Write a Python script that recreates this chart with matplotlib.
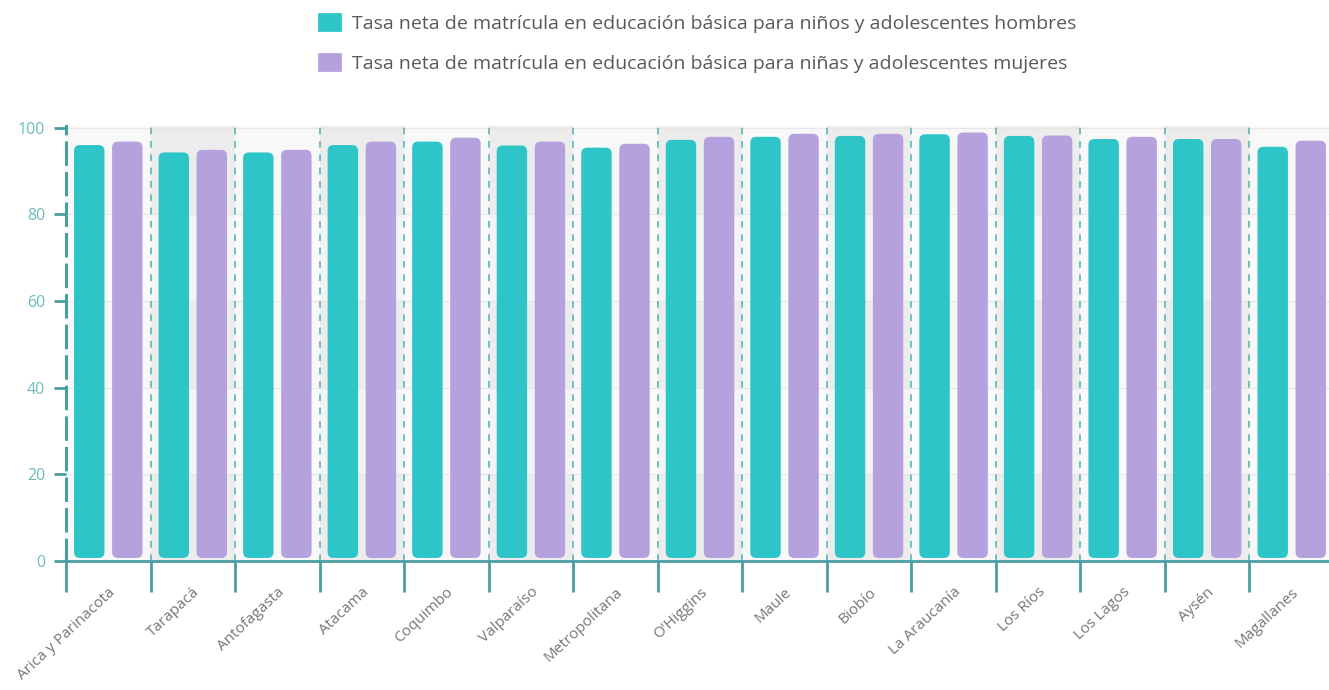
import numpy as np
import matplotlib
matplotlib.use("Agg")
from matplotlib import pyplot as plt
from matplotlib.patches import FancyBboxPatch, Patch

plt.rcParams['font.family'] = ['Open Sans', 'DejaVu Sans']

regions = ["Arica y Parinacota", "Tarapacá", "Antofagasta", "Atacama", "Coquimbo",
           "Valparaíso", "Metropolitana", "O'Higgins", "Maule", "Biobío",
           "La Araucanía", "Los Ríos", "Los Lagos", "Aysén", "Magallanes"]
hombres = [96.0, 94.3, 94.3, 96.0, 96.8, 95.9, 95.4, 97.2, 97.9, 98.1,
           98.5, 98.1, 97.4, 97.4, 95.6]
mujeres = [96.8, 94.9, 94.9, 96.8, 97.7, 96.8, 96.3, 97.9, 98.6, 98.6,
           98.9, 98.2, 97.9, 97.4, 97.0]
yticks = [0, 20, 40, 60, 80, 100]
label_h = "Tasa neta de matrícula en educación básica para niños y adolescentes hombres"
label_m = "Tasa neta de matrícula en educación básica para niñas y adolescentes mujeres"

teal = "#2ec5c8"
purple = "#b5a1de"
axis_col = "#4a9ea0"

fig = plt.figure(figsize=(13.29, 6.90), dpi=100)
ax = fig.add_axes([66/1329, 129/690, (1334-66)/1329, (564-129)/690])

n = len(regions)
x = np.arange(n)
ax.set_xlim(-0.5, n - 0.5)
ax.set_ylim(0, 100.4)

# background bands
for i in range(n):
    ax.axvspan(i - 0.5, i + 0.5, color="#ececec" if i % 2 else "#f8f8f8", zorder=0, lw=0)
for y0 in [20, 60]:
    ax.axhspan(y0, y0 + 20, color="white", alpha=0.45, zorder=0.5, lw=0)
for t in yticks[1:]:
    ax.axhline(t, color="#e6e6e6", lw=0.8, zorder=0.6)

# category separators
for b in np.arange(0.5, n - 0.5, 1):
    ax.axvline(b, color="#5ab5b3", lw=1.2, ls=(0, (4, 4)), zorder=1)

w = 0.36
off = 0.225
bars_h = ax.bar(x - off, hombres, w, color=teal, zorder=2)
bars_m = ax.bar(x + off, mujeres, w, color=purple, zorder=2)

# rounded corners
aspect = (1268 / n) / (435 / 100.4)
for cont in (bars_h, bars_m):
    for p in cont.patches:
        bx, by = p.get_x(), p.get_y()
        bw, bh = p.get_width(), p.get_height()
        p.set_visible(False)
        r = FancyBboxPatch((bx, by + 0.7), bw, bh - 0.7,
                           boxstyle="round,pad=0,rounding_size=0.07",
                           mutation_aspect=aspect, facecolor=p.get_facecolor(),
                           edgecolor="none", zorder=2)
        ax.add_patch(r)

# spines
for s in ["top", "right"]:
    ax.spines[s].set_visible(False)
ax.spines["left"].set_color(axis_col)
ax.spines["left"].set_linewidth(2.2)
ax.spines["left"].set_linestyle((0, (7, 3)))
ax.spines["bottom"].set_color(axis_col)
ax.spines["bottom"].set_linewidth(2)

ax.set_yticks(yticks)
ax.set_yticklabels([str(t) for t in yticks])
ax.tick_params(axis="y", colors=axis_col, length=9, width=2, pad=6,
               labelsize=11.5, labelcolor="#6cbcba")

ax.set_xticks(np.arange(-0.5, n - 0.5, 1))
ax.set_xticklabels([])
ax.tick_params(axis="x", colors=axis_col, length=22, width=2)
ax.set_xticks(x, minor=True)
ax.set_xticklabels(regions, minor=True, rotation=43, ha="right",
                   rotation_mode="anchor", color="#777777", fontsize=11)
ax.tick_params(axis="x", which="minor", length=0, pad=17)

handles = [Patch(facecolor=teal, edgecolor=teal, lw=2, joinstyle="round", label=label_h),
           Patch(facecolor=purple, edgecolor=purple, lw=2, joinstyle="round", label=label_m)]
leg = fig.legend(handles=handles, loc="upper center",
                 bbox_to_anchor=(0.525, 1.005), ncol=1, frameon=False,
                 fontsize=14, handlelength=1.1, handleheight=0.9,
                 handletextpad=0.6, labelspacing=1.1, labelcolor="#595959")

fig.savefig("out.png", dpi=100)
